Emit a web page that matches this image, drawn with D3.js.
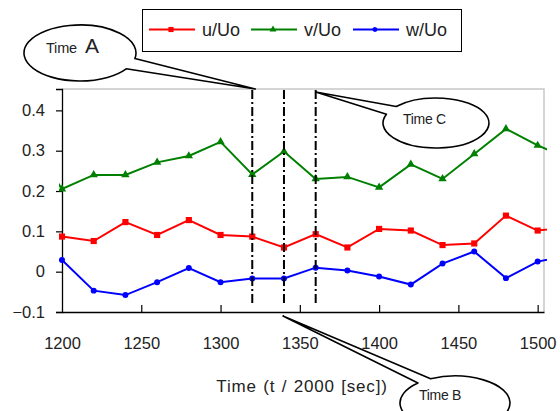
<!DOCTYPE html>
<html>
<head>
<meta charset="utf-8">
<script src="https://cdn.jsdelivr.net/npm/d3@7"></script>
<style>
  body { margin: 0; background: #fff; }
  text { font-family: "Liberation Sans", Arial, sans-serif; }
</style>
</head>
<body>
<svg id="chart" width="560" height="411"></svg>
<script>
// data
var times = [1180, 1200, 1220, 1240, 1260, 1280, 1300, 1320, 1340, 1360, 1380, 1400, 1420, 1440, 1460, 1480, 1500, 1520];
var uValues = [0.09, 0.087, 0.076, 0.123, 0.091, 0.128, 0.091, 0.087, 0.060, 0.093, 0.060, 0.106, 0.102, 0.066, 0.070, 0.139, 0.102, 0.110];
var vValues = [0.32, 0.205, 0.240, 0.240, 0.271, 0.287, 0.322, 0.241, 0.298, 0.230, 0.235, 0.209, 0.266, 0.230, 0.292, 0.354, 0.313, 0.280];
var wValues = [0.03, 0.029, -0.047, -0.058, -0.026, 0.009, -0.026, -0.017, -0.017, 0.010, 0.003, -0.012, -0.032, 0.020, 0.050, -0.016, 0.025, 0.040];
var xTicks = [1200, 1250, 1300, 1350, 1400, 1450, 1500];
var yTicks = [-0.1, 0, 0.1, 0.2, 0.3, 0.4];
var markTimes = [1320, 1340, 1360];
var seriesNames = ["u/Uo", "v/Uo", "w/Uo"];

var svg = d3.select("#chart"),
	LEFT = 62, RIGHT = 544, TOP = 89, BOTTOM = 312;

var x = d3.scaleLinear().domain([1200, 1504]).range([LEFT, RIGHT]),
	y = d3.scaleLinear().domain([-0.1, 0.453]).range([BOTTOM, TOP]);

var series = [
	{name: seriesNames[0], values: uValues, color: "#ff0000", symbol: d3.symbolSquare, size: 38},
	{name: seriesNames[1], values: vValues, color: "#008000", symbol: d3.symbolTriangle, size: 30},
	{name: seriesNames[2], values: wValues, color: "#0000ff", symbol: d3.symbolCircle, size: 28}
];

svg.append("clipPath").attr("id", "plot")
	.append("rect").attr("x", LEFT - 3).attr("y", TOP).attr("width", RIGHT - LEFT + 6).attr("height", BOTTOM - TOP);

// frame: grey top/right
svg.append("path")
	.attr("d", "M" + LEFT + " " + TOP + "H" + RIGHT + "V" + BOTTOM)
	.attr("fill", "none").attr("stroke", "#c8c8c8").attr("stroke-width", 1.5);

// axes
var xAxis = svg.append("g").attr("transform", "translate(0," + BOTTOM + ")")
	.call(d3.axisBottom(x).tickValues(xTicks).tickSizeInner(-7).tickSizeOuter(0).tickPadding(31).tickFormat(d3.format("d")));
var yAxis = svg.append("g").attr("transform", "translate(" + LEFT + ",0)")
	.call(d3.axisLeft(y).tickValues(yTicks).tickSize(6).tickPadding(11).tickFormat(function(d) { return d == 0 ? "0" : d3.format(".1f")(d); }));
[xAxis, yAxis].forEach(function(a) {
	a.select(".domain").attr("stroke", "#000").attr("stroke-width", 1.3);
	a.selectAll(".tick line").attr("stroke", "#000").attr("stroke-width", 1.2);
	a.selectAll("text").attr("font-family", "Liberation Sans, Arial, sans-serif").attr("font-size", 16.5).attr("fill", "#222");
});
xAxis.selectAll(".tick text").attr("dy", "0.35em");
xAxis.selectAll(".tick").filter(function(d) { return d == 1200; }).select("line").remove();

svg.append("text").attr("x", 302).attr("y", 392).attr("text-anchor", "middle")
	.attr("font-size", 17).attr("letter-spacing", 0.8).attr("word-spacing", 1)
	.attr("fill", "#222").text("Time (t / 2000 [sec])");

// series
var plot = svg.append("g").attr("clip-path", "url(#plot)");
var line = d3.line().x(function(d, i) { return x(times[i]); }).y(function(d) { return y(d); });

series.forEach(function(s) {
	var pts = s.values.map(function(v, i) { return {t: times[i], v: v}; })
		.filter(function(d) { return d.t >= 1200 && d.t <= 1504; });
	plot.append("path").attr("d", line(s.values))
		.attr("fill", "none").attr("stroke", s.color).attr("stroke-width", 2);
	plot.selectAll(null).data(pts).enter().append("path")
		.attr("transform", function(d) { return "translate(" + x(d.t) + "," + y(d.v) + ")"; })
		.attr("d", d3.symbol().type(s.symbol).size(s.size))
		.attr("fill", s.color);
});

// dash-dot markers of the three moments
svg.selectAll(".mark").data(markTimes).enter().append("line")
	.attr("class", "mark")
	.attr("x1", function(d) { return x(d); }).attr("x2", function(d) { return x(d); })
	.attr("y1", TOP + 1).attr("y2", BOTTOM - 6)
	.attr("stroke", "#000").attr("stroke-width", 2)
	.attr("stroke-dasharray", "9,3,2,3");

// callouts
function callout(cx, cy, rx, ry, phi, gap, tip) {
	var p = function(a) { return [cx + rx * Math.cos(a), cy + ry * Math.sin(a)]; },
		a = p(phi + gap), b = p(phi - gap);
	return "M" + a[0] + " " + a[1] + "A" + rx + " " + ry + " 0 1 1 " + b[0] + " " + b[1] + "L" + tip[0] + " " + tip[1] + "Z";
}
var callouts = [
	{cx: 80, cy: 53, rx: 56, ry: 28, phi: 0.4, gap: 0.2, tip: [x(1320) + 3, TOP]},
	{cx: 436, cy: 123, rx: 53, ry: 25, phi: -2.6, gap: 0.18, tip: [x(1360), TOP + 3]},
	{cx: 455, cy: 403, rx: 55, ry: 27, phi: -2.17, gap: 0.14, tip: [x(1340) - 1, BOTTOM + 4]}
];
callouts.forEach(function(c) {
	svg.append("path").attr("d", callout(c.cx, c.cy, c.rx, c.ry, c.phi, c.gap, c.tip))
		.attr("fill", "#fff").attr("stroke", "#000").attr("stroke-width", 1.6).attr("stroke-linejoin", "round");
});
var ta = svg.append("text").attr("x", 46).attr("y", 53).attr("fill", "#222");
ta.append("tspan").attr("font-size", 14.5).attr("letter-spacing", -0.2).text("Time");
ta.append("tspan").attr("x", 85).attr("font-size", 21).text("A");
svg.append("text").attr("x", 403).attr("y", 124).attr("font-size", 14).attr("letter-spacing", -0.3).attr("fill", "#222").text("Time C");
svg.append("text").attr("x", 419).attr("y", 400).attr("font-size", 14).attr("letter-spacing", -0.3).attr("fill", "#222").text("Time B");

// legend
var legend = svg.append("g");
legend.append("rect").attr("x", 142.5).attr("y", 9.5).attr("width", 319).attr("height", 42)
	.attr("fill", "#fff").attr("stroke", "#000").attr("stroke-width", 1);
var legendX = [149, 251, 353];
series.forEach(function(s, i) {
	var g = legend.append("g").attr("transform", "translate(" + legendX[i] + ",29.5)");
	g.append("line").attr("x1", 0).attr("x2", 46).attr("stroke", s.color).attr("stroke-width", 2);
	g.append("path").attr("transform", "translate(22,0)").attr("d", d3.symbol().type(s.symbol).size(s.size * 0.7)).attr("fill", s.color);
	g.append("text").attr("x", 53).attr("y", 6.5).attr("font-size", 18).attr("fill", "#222").text(s.name);
});
</script>
</body>
</html>
